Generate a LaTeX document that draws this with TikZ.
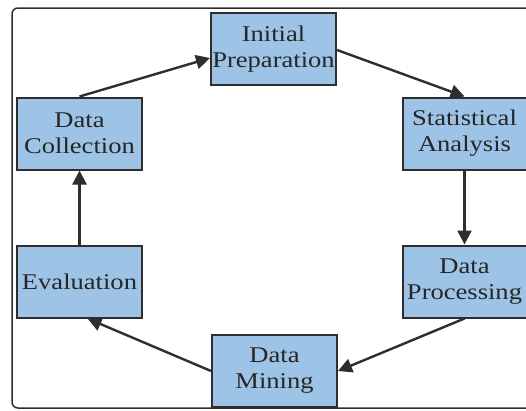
\documentclass[tikz,border=0pt]{standalone}
\usepackage{fontspec}
\setmainfont{Liberation Serif}[FakeStretch=1.18]
\usetikzlibrary{arrows.meta}
\definecolor{boxfill}{HTML}{9DC3E6}
\definecolor{boxline}{HTML}{2E2E2E}
\definecolor{txt}{HTML}{262626}
\tikzset{
  stagebox/.style={draw=boxline, line width=2pt, fill=boxfill, minimum width=125pt, minimum height=72pt,
    inner sep=0pt, align=center, text=txt, font=\fontsize{22.5}{26}\selectfont},
  flow/.style={draw=boxline, line width=2.4pt, -{Triangle[length=14pt,width=14pt]}}
}
\begin{document}
\begin{tikzpicture}[x=1pt,y=-1pt]
\useasboundingbox (0,0) rectangle (526,410);
\begin{scope}
\clip (0,0) rectangle (526,410);
\draw[boxline, line width=1.5pt, rounded corners=6pt] (12,8) rectangle (545,408);
\node[stagebox] (ip) at (273.5,49) {Initial\\Preparation};
\node[stagebox] (dc) at (79.5,133.5) {Data\\Collection};
\node[stagebox, minimum width=124pt] (sa) at (464.5,133.5) {Statistical\\Analysis};
\node[stagebox, minimum width=124pt] (dp) at (464.5,281.5) {Data\\Processing};
\node[stagebox] (ev) at (79.5,281.5) {Evaluation};
\node[stagebox] (dm) at (274.5,371) {Data\\Mining};
\draw[flow] (dc.north) -- ([yshift=-9pt]ip.west);
\draw[flow] ([yshift=-1pt]ip.east) -- (sa.north);
\draw[flow] (sa.south) -- (dp.north);
\draw[flow] (dp.south) -- (dm.east);
\draw[flow] (dm.west) -- ([xshift=8pt]ev.south);
\draw[flow] (ev.north) -- (dc.south);
\end{scope}
\end{tikzpicture}
\end{document}
